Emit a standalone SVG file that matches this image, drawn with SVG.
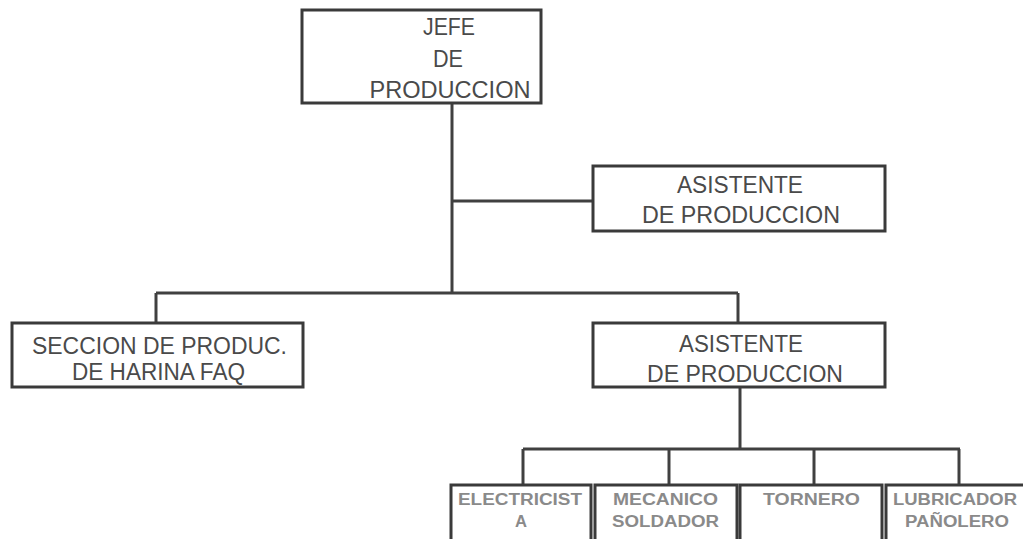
<svg xmlns="http://www.w3.org/2000/svg" width="1023" height="539" viewBox="0 0 1023 539">
  <style>
    .box { fill: #ffffff; stroke: #3a3a3a; stroke-width: 3; }
    .link { fill: none; stroke: #404040; stroke-width: 3; }
    .big { font-family: "Liberation Sans", Arial, sans-serif; font-size: 23px; fill: #4a4a4a; text-anchor: middle; }
    .small { font-family: "Liberation Sans", Arial, sans-serif; font-size: 16px; font-weight: bold; fill: #8a8a8a; text-anchor: middle; }
  </style>
  <rect width="1023" height="539" fill="#ffffff"/>

  <g id="connectors">
    <path class="link" d="M452 103 V293"/>
    <path class="link" d="M452 201 H593"/>
    <path class="link" d="M156 293 H738"/>
    <path class="link" d="M156 293 V323"/>
    <path class="link" d="M738 293 V323"/>
    <path class="link" d="M740 387 V449"/>
    <path class="link" d="M523 449 H960"/>
    <path class="link" d="M523 449 V485"/>
    <path class="link" d="M669 449 V485"/>
    <path class="link" d="M814 449 V485"/>
    <path class="link" d="M959 449 V485"/>
  </g>

  <g id="jefe">
    <rect class="box" x="302" y="10" width="239" height="93"/>
    <text class="big" x="449" y="35" textLength="52" lengthAdjust="spacingAndGlyphs">JEFE</text>
    <text class="big" x="448" y="67" textLength="30" lengthAdjust="spacingAndGlyphs">DE</text>
    <text class="big" x="450" y="98" textLength="161" lengthAdjust="spacingAndGlyphs">PRODUCCION</text>
  </g>

  <g id="asistente-1">
    <rect class="box" x="593" y="166" width="292" height="65"/>
    <text class="big" x="740" y="193" textLength="126" lengthAdjust="spacingAndGlyphs">ASISTENTE</text>
    <text class="big" x="741" y="223" textLength="198" lengthAdjust="spacingAndGlyphs">DE PRODUCCION</text>
  </g>

  <g id="seccion">
    <rect class="box" x="12" y="323" width="291" height="64"/>
    <text class="big" x="159.5" y="354" textLength="255" lengthAdjust="spacingAndGlyphs">SECCION DE PRODUC.</text>
    <text class="big" x="158.5" y="380" textLength="173" lengthAdjust="spacingAndGlyphs">DE HARINA FAQ</text>
  </g>

  <g id="asistente-2">
    <rect class="box" x="593" y="323" width="292" height="64"/>
    <text class="big" x="741" y="352" textLength="124" lengthAdjust="spacingAndGlyphs">ASISTENTE</text>
    <text class="big" x="745" y="382" textLength="196" lengthAdjust="spacingAndGlyphs">DE PRODUCCION</text>
  </g>

  <g id="electricista">
    <rect class="box" x="451" y="485" width="140" height="70"/>
    <text class="small" x="520" y="505" textLength="124" lengthAdjust="spacingAndGlyphs">ELECTRICIST</text>
    <text class="small" x="521" y="527" textLength="12" lengthAdjust="spacingAndGlyphs">A</text>
  </g>

  <g id="mecanico">
    <rect class="box" x="595" y="485" width="142" height="70"/>
    <text class="small" x="665.5" y="505" textLength="105" lengthAdjust="spacingAndGlyphs">MECANICO</text>
    <text class="small" x="665.5" y="527" textLength="107" lengthAdjust="spacingAndGlyphs">SOLDADOR</text>
  </g>

  <g id="tornero">
    <rect class="box" x="740" y="485" width="142" height="70"/>
    <text class="small" x="811.5" y="505" textLength="97" lengthAdjust="spacingAndGlyphs">TORNERO</text>
  </g>

  <g id="lubricador">
    <rect class="box" x="886" y="485" width="145" height="70"/>
    <text class="small" x="955" y="505" textLength="124" lengthAdjust="spacingAndGlyphs">LUBRICADOR</text>
    <text class="small" x="957" y="527" textLength="104" lengthAdjust="spacingAndGlyphs">PAÑOLERO</text>
  </g>
</svg>
